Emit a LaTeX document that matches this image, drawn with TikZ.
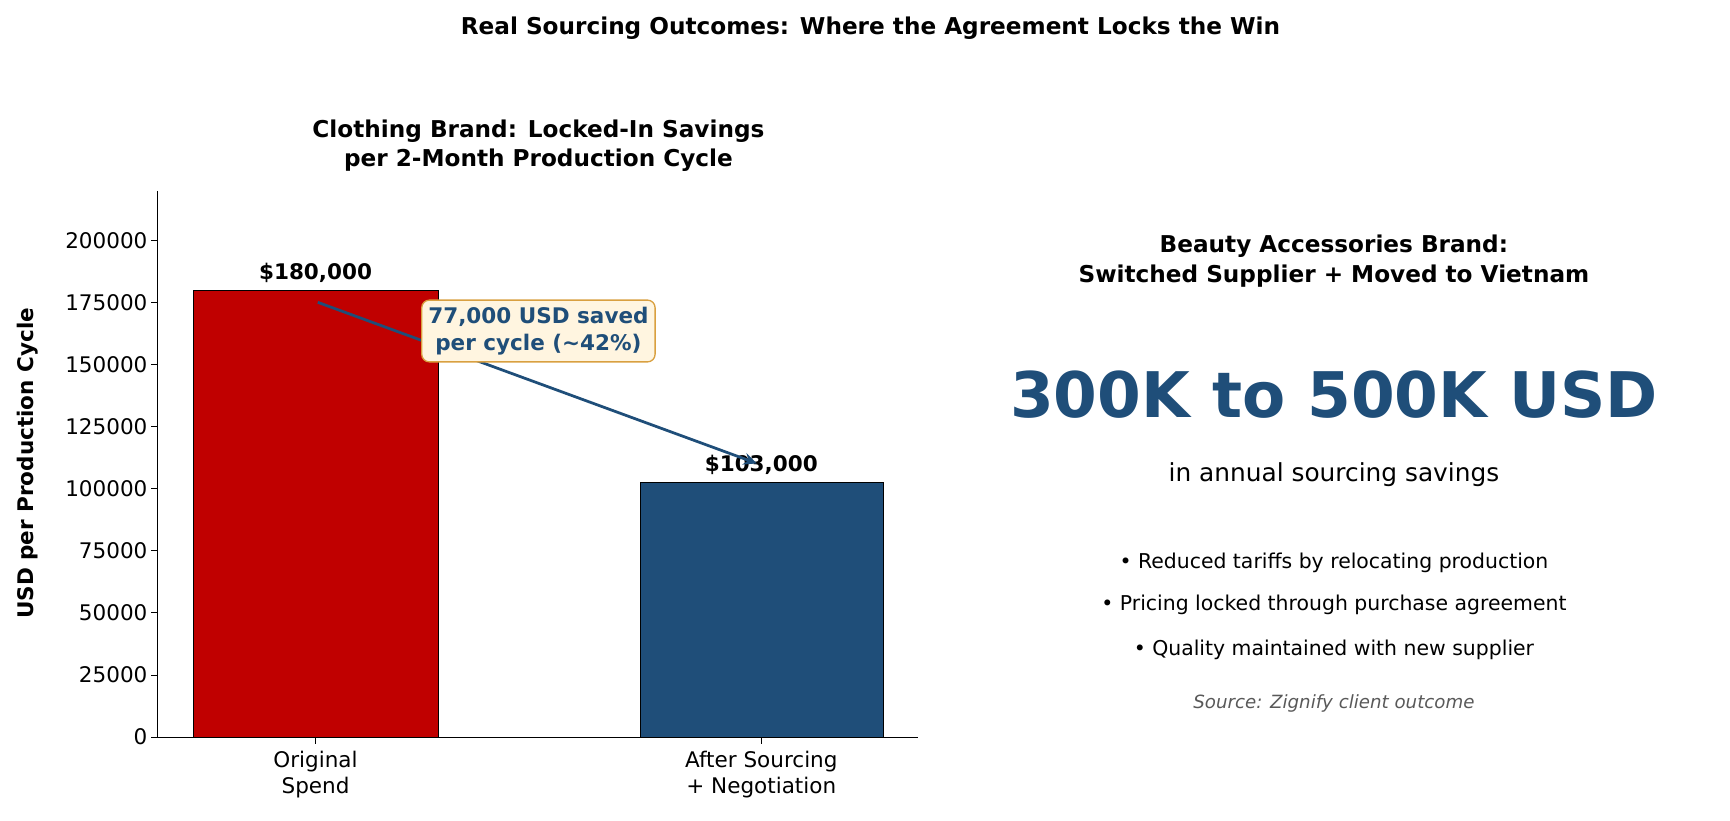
\documentclass[tikz,border=0pt]{standalone}
\usepackage{fontspec}
\setmainfont{DejaVu Sans}
\usetikzlibrary{arrows.meta}
\definecolor{navy}{RGB}{31,78,121}
\definecolor{redbar}{RGB}{192,0,0}
\definecolor{cream}{RGB}{255,245,224}
\definecolor{boxedge}{RGB}{217,160,64}
\tikzset{every picture/.style={line width=0.75pt}}
\tikzset{
  tick/.style={font=\fontsize{19.5}{24}\selectfont, inner sep=1pt},
  ttl/.style={font=\bfseries\fontsize{21}{27}\selectfont, align=center},
  bar/.style={draw=black, line width=0.6pt},
  bul/.style={font=\fontsize{18.5}{18.5}\selectfont}
}
\begin{document}
\begin{tikzpicture}[x=1pt,y=1pt,yscale=-1]
        \useasboundingbox (0,0) rectangle (1568,744);

        % Titles
        \node (main) [ttl] at (789,26) {Real Sourcing Outcomes: Where the Agreement Locks the Win};
        \node (left) [ttl] at (488,132) {Clothing Brand: Locked-In Savings\\per 2-Month Production Cycle};

        % Bars
        \fill[redbar] (175,263) rectangle (397,668);
        \draw[bar] (175,263) rectangle (397,668);
        \fill[navy] (580,437) rectangle (801,668);
        \draw[bar] (580,437) rectangle (801,668);

        % Axes
        \draw (143,173) -- (143,668) -- (832,668);
        \foreach \v [count=\i from 0] in {0,25000,50000,75000,100000,125000,150000,175000,200000}
          {\draw (143,668-56.25*\i) -- (137,668-56.25*\i);
           \node (t\i) [tick, anchor=east] at (135,668-56.25*\i) {\v};}
        \draw (286,668) -- (286,674);
        \draw (690,668) -- (690,674);
        \node (xa) [tick, align=center, anchor=north] at (286,679) {Original\\Spend};
        \node (xb) [tick, align=center, anchor=north] at (690,679) {After Sourcing\\+ Negotiation};
        \node (ylab) [font=\bfseries\fontsize{19.5}{19.5}\selectfont, rotate=90] at (25,420) {USD per Production Cycle};

        % Value labels
        \node (va) [font=\bfseries\fontsize{19.5}{19.5}\selectfont] at (286,247) {\$180,000};
        \node (vb) [font=\bfseries\fontsize{19.5}{19.5}\selectfont] at (690,421) {\$103,000};

        % Arrow and note
        \coordinate (from) at (288,274);
        \coordinate (to) at (686,420);
        \draw[draw=navy, line width=2.5pt, -{Stealth[length=12pt,width=11pt]}] (from) -- (to);
        \node (note) [draw=boxedge, fill=cream, rounded corners=7pt, line width=1.2pt, text=navy, align=center,
          font=\bfseries\fontsize{19.5}{25}\selectfont, inner sep=6pt] at (488,300) {77,000 USD saved\\per cycle (\textasciitilde42\%)};

        % Right panel
        \node (right) [ttl] at (1209,237) {Beauty Accessories Brand:\\Switched Supplier + Moved to Vietnam};
        \node (big) [text=navy, font=\bfseries\fontsize{57}{57}\selectfont] at (1209,358) {300K to 500K USD};
        \node (annual) [font=\fontsize{22.5}{22.5}\selectfont] at (1209,430) {in annual sourcing savings};
        \node (b1) [bul] at (1209,510) {• Reduced tariffs by relocating production};
        \node (b2) [bul] at (1209,548) {• Pricing locked through purchase agreement};
        \node (b3) [bul] at (1209,589) {• Quality maintained with new supplier};
        \node (src) [text=black!65, font=\itshape\fontsize{16.5}{16.5}\selectfont] at (1209,638) {Source: Zignify client outcome};
\end{tikzpicture}
\end{document}
